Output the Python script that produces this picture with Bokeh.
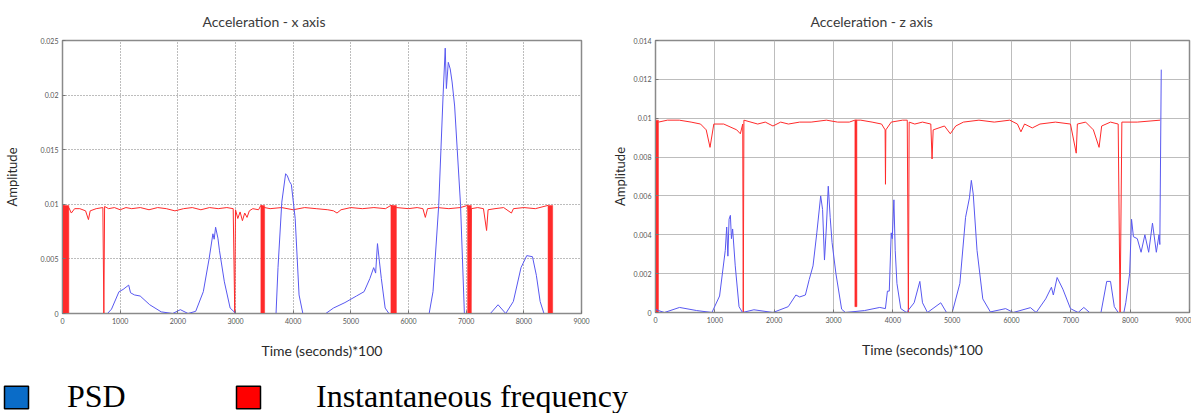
from bokeh.plotting import figure
from bokeh.layouts import column, row
from bokeh.models import Legend, LegendItem, FixedTicker, Range1d
from bokeh.embed import file_html
from bokeh.resources import INLINE

# ---------------- data ----------------
x_ticks = [0, 1000, 2000, 3000, 4000, 5000, 6000, 7000, 8000, 9000]
yx_ticks = [0, 0.005, 0.01, 0.015, 0.02, 0.025]
yz_ticks = [0, 0.002, 0.004, 0.006, 0.008, 0.01, 0.012, 0.014]

# Acceleration - x axis : PSD
psd_x_t = [0, 780, 850, 980, 1050, 1148, 1180, 1248, 1347, 1513, 1712, 1911, 2044, 2177,
           2310, 2442, 2542, 2608, 2630, 2655, 2695, 2721, 2807, 2907, 3007, 3703, 3737,
           3803, 3869, 3900, 3935, 3969, 4035, 4102, 4168, 4566, 4699, 4898, 5097, 5230,
           5330, 5396, 5430, 5462, 5495, 5529, 5595, 5661, 6358, 6425, 6524, 6600, 6637,
           6657, 6690, 6723, 6756, 6800, 6902, 6969, 7420, 7553, 7686, 7818, 7951, 8051,
           8150, 8217, 8283, 8349, 8500]
psd_x_v = [0, 0, 0.0004, 0.002, 0.0022, 0.0026, 0.0019, 0.0017, 0.0016, 0.0008, 0.00015, 0,
           0.00035, 0, 0.0002, 0.002, 0.005, 0.0073, 0.0068, 0.0079, 0.0069, 0.0058, 0.0029,
           0.0005, 0, 0, 0.0042, 0.0102, 0.0128, 0.0126, 0.0121, 0.0118, 0.0087, 0.0017, 0,
           0, 0.0005, 0.001, 0.0016, 0.002, 0.0032, 0.0042, 0.0037, 0.0064, 0.0048, 0.0032,
           0.0005, 0, 0, 0.002, 0.0099, 0.02, 0.0243, 0.0206, 0.023, 0.0224, 0.0212, 0.019,
           0.01, 0, 0, 0.0008, 0, 0.0011, 0.0042, 0.0053, 0.0052, 0.0035, 0.0011, 0, 0]

# Acceleration - x axis : instantaneous frequency
if_x_t = [0, 110, 153, 210, 300, 400, 450, 480, 584, 700, 717, 730, 800, 900, 1000, 1100,
          1200, 1350, 1500, 1650, 1800, 1950, 2100, 2250, 2400, 2550, 2700, 2850, 2960,
          2987, 3000, 3040, 3080, 3120, 3160, 3200, 3240, 3300, 3400, 3440, 3505, 3600,
          3800, 4000, 4200, 4400, 4600, 4700, 4760, 4830, 5000, 5200, 5400, 5600, 5695,
          5790, 6000, 6150, 6250, 6292, 6330, 6500, 6700, 6900, 7025, 7061, 7074, 7090,
          7200, 7300, 7354, 7380, 7500, 7650, 7785, 7820, 8000, 8200, 8420]
if_x_v = [0.0099, 0.0097, 0.0092, 0.0096, 0.0096, 0.0094, 0.0086, 0.0094, 0.0096, 0.0097, 0,
          0.0098, 0.0096, 0.0097, 0.0095, 0.0097, 0.0096, 0.0097, 0.0095, 0.0097, 0.0096,
          0.0094, 0.0096, 0.0097, 0.0095, 0.0097, 0.0096, 0.0097, 0.0096, 0, 0.0095, 0.0087,
          0.0093, 0.0085, 0.0092, 0.0088, 0.0094, 0.0096, 0.0095, 0.0099, 0.0097, 0.0096,
          0.0097, 0.0095, 0.0097, 0.0096, 0.0095, 0.0094, 0.0092, 0.0095, 0.0097, 0.0096,
          0.0097, 0.0096, 0.0099, 0.0097, 0.0096, 0.0097, 0.0096, 0.0088, 0.0096, 0.0097,
          0.0096, 0.0097, 0.0099, 0.0085, 0, 0.0096, 0.0097, 0.0096, 0.0076, 0.0095, 0.0096,
          0.0097, 0.0092, 0.0096, 0.0097, 0.0096, 0.0099]
# bursts where the instantaneous frequency oscillates between 0 and its ceiling
if_x_burst_start = [0, 3440, 5695, 7025, 8420]
if_x_burst_end = [110, 3505, 5790, 7090, 8500]
if_x_burst_top = [0.0099, 0.0099, 0.0099, 0.0099, 0.0099]

# Acceleration - z axis : PSD
psd_z_t = [0, 50, 150, 405, 694, 951, 1080, 1176, 1200, 1220, 1240, 1262, 1280, 1300, 1344,
           1408, 1466, 1659, 1980, 2237, 2366, 2430, 2526, 2591, 2655, 2719, 2784, 2816,
           2848, 2880, 2912, 2944, 2976, 3041, 3137, 3201, 3523, 3780, 3875, 3909, 3940,
           3973, 3990, 4018, 4040, 4069, 4134, 4230, 4359, 4455, 4500, 4584, 4808, 4905,
           5001, 5130, 5226, 5291, 5323, 5355, 5419, 5516, 5644, 5901, 6030, 6319, 6416,
           6576, 6673, 6705, 6769, 6866, 6994, 7123, 7219, 7316, 7508, 7605, 7669, 7733,
           7798, 7894, 7926, 7991, 8023, 8055, 8120, 8184, 8248, 8312, 8376, 8441, 8486,
           8500, 8524]
psd_z_v = [0.00017, 0.0001, 0, 0.00026, 0.0001, 0, 0.00085, 0.0032, 0.0044, 0.0029, 0.0048,
           0.005, 0.0038, 0.0043, 0.0024, 0.0003, 0, 0.00014, 0, 0.0003, 0.0009, 0.0008,
           0.0009, 0.0017, 0.0024, 0.0041, 0.006, 0.0053, 0.0027, 0.0044, 0.0065, 0.0049,
           0.0036, 0.002, 0.00017, 0, 0.0001, 0.00026, 0.0002, 0.0011, 0.0011, 0.0041,
           0.0038, 0.0058, 0.0032, 0.0015, 0.0002, 0, 0.0005, 0.0016, 0.0005, 0, 0.0005, 0,
           0, 0.0015, 0.0049, 0.0059, 0.0068, 0.0061, 0.0032, 0.0007, 0.00003, 0.0002, 0,
           0.00025, 0, 0.0007, 0.0013, 0.0009, 0.0018, 0.0012, 0.0002, 0, 0.00026, 0, 0,
           0.0016, 0.0016, 0.0003, 0, 0, 0.0005, 0.002, 0.0048, 0.0039, 0.0038, 0.0031,
           0.004, 0.0031, 0.0046, 0.0031, 0.004, 0.0035, 0.0125]

# Acceleration - z axis : instantaneous frequency
if_z_t = [50, 200, 400, 600, 759, 855, 919, 983, 1150, 1369, 1430, 1470, 1479, 1490, 1723,
          1850, 1980, 2110, 2240, 2430, 2623, 2880, 3070, 3266, 3360, 3395, 3460, 3650, 3810,
          3870, 3876, 3882, 3973, 4165, 4243, 4262, 4275, 4370, 4500, 4640, 4661, 4680,
          4870, 4969, 5060, 5190, 5451, 5710, 5970, 6100, 6159, 6220, 6350, 6480, 6740, 6994,
          7091, 7110, 7250, 7380, 7476, 7520, 7669, 7798, 7830, 7860, 8120, 8505]
if_z_v = [0.0098, 0.0099, 0.0099, 0.0098, 0.0097, 0.0094, 0.0085, 0.0097, 0.0097, 0.0094,
          0.0092, 0.0097, 0, 0.0099, 0.0097, 0.0098, 0.0096, 0.0098, 0.0097, 0.0098, 0.0098,
          0.0099, 0.0098, 0.0098, 0.0099, 0.0099, 0.0099, 0.0098, 0.0097, 0.0094, 0.0066,
          0.0094, 0.0098, 0.0099, 0.0099, 0, 0.0098, 0.0097, 0.0098, 0.0097, 0.0079, 0.0094,
          0.0096, 0.0092, 0.0096, 0.0098, 0.0099, 0.0098, 0.0099, 0.0097, 0.0093, 0.0097,
          0.0095, 0.0097, 0.0098, 0.0097, 0.0082, 0.0097, 0.0098, 0.0094, 0.0085, 0.0096,
          0.0098, 0.0097, 0, 0.0098, 0.0098, 0.0099]
if_z_burst_start = [0, 3360]
if_z_burst_end = [50, 3395]
if_z_burst_bottom = [0, 0.0003]
if_z_burst_top = [0.0099, 0.0099]

BLUE = "#5858f0"
RED = "#ff2a2a"
FONT = "Lato"


def make_chart(title, ymax, yticks, grid_dash, grid_color, lb, rb, tb, bb, fw, fh,
               title_offset, ylab_standoff):
    p = figure(frame_width=fw, frame_height=fh, output_backend="svg", toolbar_location=None,
               x_range=Range1d(0, 9000), y_range=Range1d(0, ymax),
               min_border_left=lb, min_border_right=rb, min_border_top=tb,
               min_border_bottom=bb, title=title)
    p.title.text_font = FONT
    p.title.text_font_size = "14px"
    p.title.text_font_style = "normal"
    p.title.text_color = "#3a3a3a"
    p.title.align = "left"
    p.title.offset = title_offset
    p.title.standoff = 21
    p.xaxis.ticker = FixedTicker(ticks=x_ticks)
    p.yaxis.ticker = FixedTicker(ticks=yticks)
    p.yaxis.major_label_overrides = {v: ("0" if v == 0 else "%g" % v) for v in yticks}
    p.xaxis.axis_label = "Time (seconds)*100"
    p.yaxis.axis_label = "Amplitude"
    for ax in (p.xaxis, p.yaxis):
        ax.axis_label_text_font = FONT
        ax.axis_label_text_font_style = "normal"
        ax.axis_label_text_color = "#2a2a2a"
        ax.major_label_text_font = FONT
        ax.major_label_text_font_size = "7px"
        ax.major_label_text_color = "#555555"
        ax.minor_tick_line_color = None
        ax.major_tick_in = 3
        ax.major_tick_out = 0
        ax.major_tick_line_color = "#777777"
        ax.axis_line_color = "#8a8a8a"
        ax.major_label_standoff = 4
    p.xaxis.axis_label_text_font_size = "14px"
    p.yaxis.axis_label_text_font_size = "13px"
    p.xaxis.axis_label_standoff = 15
    p.yaxis.axis_label_standoff = ylab_standoff
    p.grid.grid_line_color = grid_color
    p.grid.grid_line_dash = grid_dash
    p.outline_line_color = "#8a8a8a"
    p.outline_line_width = 1.5
    return p


p1 = make_chart("Acceleration - x axis", 0.025, yx_ticks, "1 2", "#7a7a7a",
                62, 23, 38, 55, 519, 273, 140, 18)
p1.quad(left=if_x_burst_start, right=if_x_burst_end, bottom=0, top=if_x_burst_top,
        fill_color=RED, line_color=RED, line_width=0.5)
p1.line(if_x_t, if_x_v, line_color=RED, line_width=1)
p1.line(psd_x_t, psd_x_v, line_color=BLUE, line_width=1)

p2 = make_chart("Acceleration - z axis", 0.014, yz_ticks, "solid", "#bdbdbd",
                51, 2, 40, 54, 534, 272, 155, 3)
p2.quad(left=if_z_burst_start, right=if_z_burst_end, bottom=if_z_burst_bottom,
        top=if_z_burst_top, fill_color=RED, line_color=RED, line_width=0.5)
p2.line(if_z_t, if_z_v, line_color=RED, line_width=1)
p2.line(psd_z_t, psd_z_v, line_color=BLUE, line_width=1)

# legend strip
nan = float("nan")
p3 = figure(width=1191, height=45, output_backend="svg", toolbar_location=None,
            x_range=(0, 1), y_range=(0, 1), min_border=0,
            x_axis_location=None, y_axis_location=None)
p3.outline_line_color = None
p3.grid.visible = False
r_psd = p3.quad(left=[nan], right=[nan], top=[nan], bottom=[nan], fill_color="#0a6cc8",
                line_color="black", line_width=1.5)
r_if = p3.quad(left=[nan], right=[nan], top=[nan], bottom=[nan], fill_color="#ff0000",
               line_color="black", line_width=1.5)

for item, loc, standoff in ((LegendItem(label="PSD", renderers=[r_psd]), (1, -2), 36),
                            (LegendItem(label="Instantaneous frequency", renderers=[r_if]), (233, -2), 53)):
    lg = Legend(items=[item], location=loc, orientation="horizontal", glyph_width=30,
                glyph_height=28, label_standoff=standoff, padding=0, margin=0,
                border_line_color=None, background_fill_alpha=0,
                label_text_font="Liberation Serif", label_text_font_size="32px",
                label_height=22, label_text_color="black")
    p3.add_layout(lg)

layout = column(row(p1, p2, spacing=0), p3, spacing=0)
open("out.html", "w").write(file_html(layout, INLINE))
